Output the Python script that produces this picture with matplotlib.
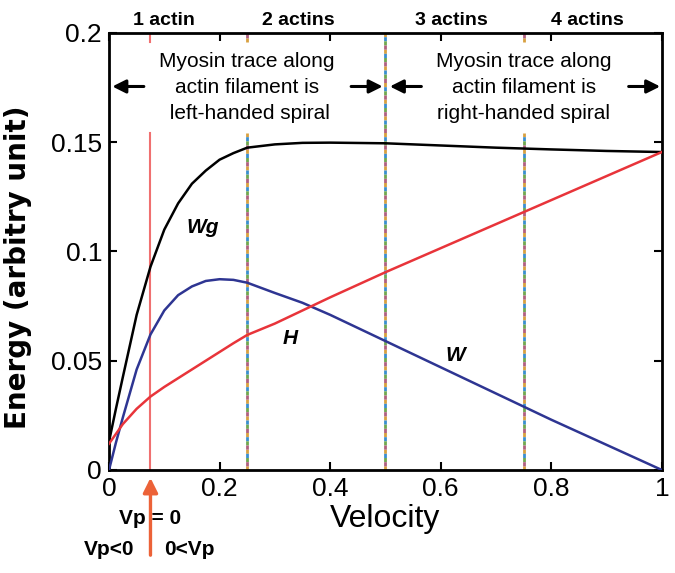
import numpy as np
import matplotlib
matplotlib.use("Agg")
from matplotlib import pyplot as plt

# velocity grid and curves
velocity = [0.0, 0.0125, 0.025, 0.05, 0.075, 0.1, 0.125, 0.15, 0.175, 0.2,
            0.225, 0.25, 0.3, 0.35, 0.4, 0.5, 0.6, 0.7, 0.8, 0.9, 1.0]
wg = [0.013, 0.028, 0.0425, 0.071, 0.093, 0.110, 0.122, 0.131, 0.137, 0.142,
      0.145, 0.1475, 0.149, 0.1497, 0.1498, 0.1495, 0.1485, 0.1475, 0.1467,
      0.146, 0.1455]
h = [0.012, 0.0165, 0.021, 0.028, 0.0336, 0.038, 0.042, 0.046, 0.050, 0.054,
     0.058, 0.0618, 0.067, 0.073, 0.079, 0.0905, 0.1015, 0.1125, 0.1235,
     0.1345, 0.1455]
w = [0.0, 0.0125, 0.024, 0.046, 0.062, 0.073, 0.080, 0.084, 0.0865, 0.0873,
     0.0870, 0.0857, 0.081, 0.0765, 0.071, 0.059, 0.047, 0.035, 0.023,
     0.0115, 0.0]

actin_marks = [0.25, 0.5, 0.75]
vp_zero = 0.075
actin_labels = ["1 actin", "2 actins", "3 actins", "4 actins"]
actin_label_x = [0.10, 0.343, 0.62, 0.865]
xticks = [0, 0.2, 0.4, 0.6, 0.8, 1.0]
xtick_labels = ["0", "0.2", "0.4", "0.6", "0.8", "1"]
yticks = [0, 0.05, 0.1, 0.15, 0.2]
ytick_labels = ["0", "0.05", "0.1", "0.15", "0.2"]

plt.rcParams["font.family"] = ["Liberation Sans", "DejaVu Sans"]

fig = plt.figure(figsize=(6.75, 5.73), dpi=100)
ax = fig.add_axes([0.1615, 0.1798, 0.819, 0.7627])

# vertical marker lines (broken where the text sits)
segs_low = (0, 0.154)
segs_top = (0.196, 0.2)
ax.plot([vp_zero, vp_zero], segs_low, color="#f07070", lw=1.5, zorder=1)
ax.plot([vp_zero, vp_zero], segs_top, color="#f07070", lw=1.5, zorder=1)
dash_colors = ["#d8a040", "#3a8fd0", "#70a850", "#b06080"]
for xm in actin_marks:
    if xm == 0.5:
        parts = [(0, 0.2)]
    else:
        parts = [segs_low, segs_top]
    for y0, y1 in parts:
        for k, c in enumerate(dash_colors):
            ax.plot([xm, xm], [y0, y1], color=c, lw=2,
                    linestyle=(1.5 * k, (1.5, 4.5)), dash_capstyle="butt",
                    zorder=1)

ax.plot(velocity, wg, color="black", lw=1.8, zorder=3)
ax.plot(velocity, w, color="#2e3592", lw=1.8, zorder=3)
ax.plot(velocity, h, color="#e8343a", lw=1.8, zorder=3)

ax.text(0.17, 0.111, "Wg", fontsize=15, fontweight="bold", style="italic",
        ha="center", va="center")
ax.text(0.327, 0.060, "H", fontsize=15, fontweight="bold", style="italic",
        ha="center", va="center")
ax.text(0.626, 0.0526, "W", fontsize=15, fontweight="bold", style="italic",
        ha="center", va="center")

ax.text(0.25, 0.175, "Myosin trace along\nactin filament is\n left-handed spiral",
        fontsize=15, ha="center", va="center", linespacing=1.45)
ax.text(0.75, 0.175, "Myosin trace along\nactin filament is\nright-handed spiral",
        fontsize=15, ha="center", va="center", linespacing=1.45)
arrow_kw = dict(arrowstyle="-|>", color="black", lw=2.2, mutation_scale=20,
                shrinkA=0, shrinkB=0)
ax.annotate("", xy=(0.006, 0.1755), xytext=(0.063, 0.1755), arrowprops=arrow_kw)
ax.annotate("", xy=(0.495, 0.1755), xytext=(0.438, 0.1755), arrowprops=arrow_kw)
ax.annotate("", xy=(0.508, 0.1755), xytext=(0.565, 0.1755), arrowprops=arrow_kw)
ax.annotate("", xy=(0.997, 0.1755), xytext=(0.94, 0.1755), arrowprops=arrow_kw)

for lab, lx in zip(actin_labels, actin_label_x):
    ax.text(lx, 1.01, lab, transform=ax.get_xaxis_transform(), fontsize=14,
            fontweight="bold", ha="center", va="bottom")

# orange arrow and Vp labels below the axis
tr = ax.get_xaxis_transform()
ax.text(vp_zero, -0.11, "Vp = 0", transform=tr, fontsize=15, fontweight="bold",
        ha="center", va="center")
ax.text(0.001, -0.183, "Vp<0", transform=tr, fontsize=15, fontweight="bold",
        ha="center", va="center")
ax.text(0.146, -0.183, "0<Vp", transform=tr, fontsize=15, fontweight="bold",
        ha="center", va="center")
ax.annotate("", xy=(vp_zero, -0.018), xycoords=tr, xytext=(vp_zero, -0.195),
            textcoords=tr, annotation_clip=False,
            arrowprops=dict(arrowstyle="-|>", color="#ec6238", lw=2.4,
                            mutation_scale=22, shrinkA=0, shrinkB=0))

ax.set_xlim(0, 1)
ax.set_ylim(0, 0.2)
ax.set_xticks(xticks)
ax.set_xticklabels(xtick_labels, fontsize=19)
ax.set_yticks(yticks)
ax.set_yticklabels(ytick_labels, fontsize=19)
ax.tick_params(direction="in", length=6, width=1.5, top=True, right=True,
               pad=5)
for s in ax.spines.values():
    s.set_linewidth(2)

ax.set_xlabel("Velocity", fontsize=23, labelpad=2)
ax.set_ylabel("Energy (arbitry unit)", fontsize=20, fontweight="bold",
              family="DejaVu Sans")
ax.yaxis.set_label_coords(-0.14, 0.463)

fig.savefig("out.png", dpi=100)
